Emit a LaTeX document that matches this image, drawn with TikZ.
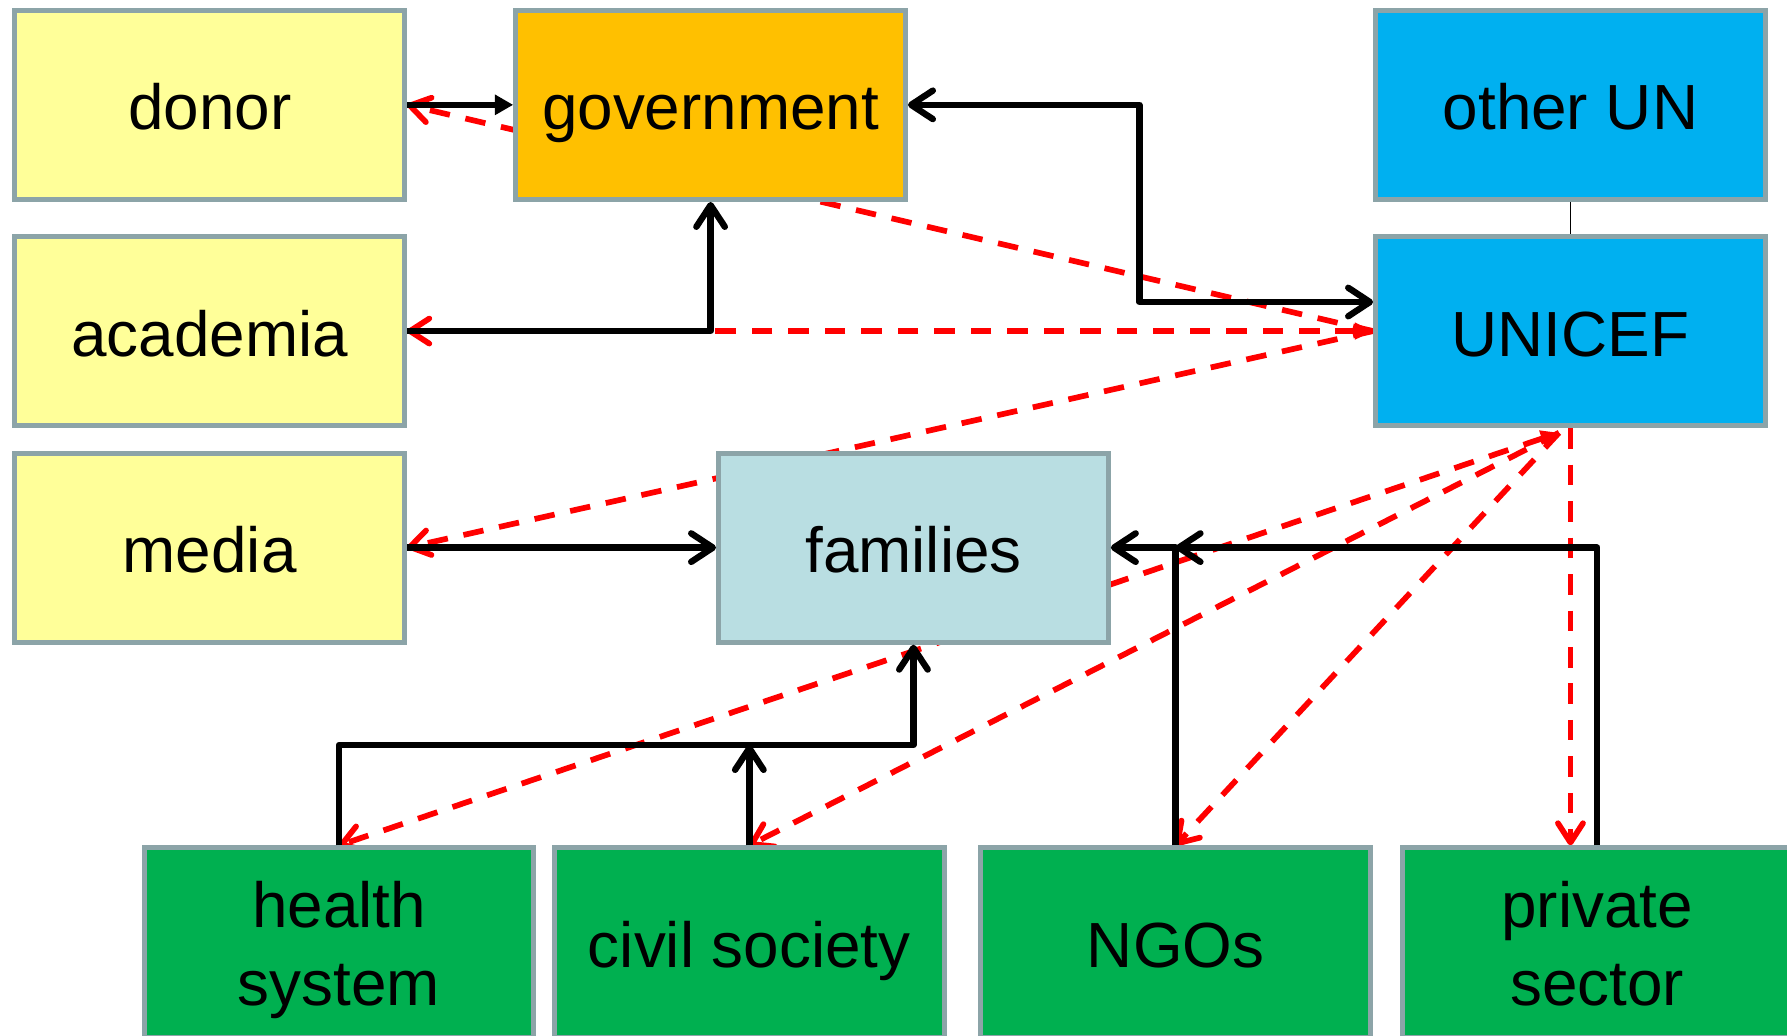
\documentclass[tikz,border=0pt]{standalone}
\usepackage{fontspec}
\setmainfont{Liberation Sans}
\usetikzlibrary{arrows.meta,calc}
\pgfdeclarelayer{bg}
\pgfsetlayers{bg,main}
\definecolor{yelc}{RGB}{255,255,153}
\definecolor{orac}{RGB}{255,192,0}
\definecolor{bluc}{RGB}{0,176,240}
\definecolor{famc}{RGB}{185,222,226}
\definecolor{grnc}{RGB}{0,176,80}
\definecolor{bordc}{RGB}{140,164,168}
\definecolor{redc}{RGB}{255,0,0}
\tikzset{
  openarr/.tip={Straight Barb[length=9.5pt,width=12.5pt,line cap=round,line join=round]},
  redarr/.tip={Straight Barb[length=8.5pt,width=11pt,line cap=round,line join=round]},
  tri/.tip={Triangle[length=8pt,width=8.5pt]},
  redtri/.tip={Triangle[length=8pt,width=7pt]},
}
\begin{document}
\begin{tikzpicture}[x=0.5pt,y=-0.5pt,
  box/.style={draw=bordc, line width=2.2pt, minimum width=171pt, minimum height=83pt,
    inner sep=0pt, align=center, font=\fontsize{28}{34}\selectfont,
    text height=22pt, text depth=0pt},
  twoline/.style={text height=55pt, text depth=0pt},
  blk/.style={draw=black, line width=2.8pt, line join=round},
  rdash/.style={draw=redc, line width=2.5pt, dash pattern=on 9pt off 7pt},
  thinln/.style={draw=black, line width=0.6pt}]
\useasboundingbox (0,0) rectangle (1568,909);
\clip (0,0) rectangle (1568,909);
% boxes
\node[box, fill=yelc] (donor) at (184,92) {donor};
\node[box, fill=orac] (gov) at (623.5,92) {government};
\node[box, fill=bluc] (otherun) at (1378,92) {other UN};
\node[box, fill=yelc] (acad) at (184,290.5) {academia};
\node[box, fill=bluc] (unicef) at (1378,290.5) {UNICEF};
\node[box, fill=yelc] (media) at (184,480.5) {media};
\node[box, fill=famc] (fam) at (801.5,480.5) {families};
\node[box, twoline, fill=grnc] (health) at (297.5,827) {health\\system};
\node[box, fill=grnc] (civil) at (657.5,827) {civil society};
\node[box, fill=grnc] (ngos) at (1031.5,827) {NGOs};
\node[box, twoline, fill=grnc] (priv) at (1401.5,827) {private\\sector};
\coordinate (ub) at ($(unicef.south)+(-10,4)$);
\coordinate (hj) at ($(fam.south)+(0,88)$);
% red dashed connectors (behind boxes)
\begin{pgfonlayer}{bg}
\draw[rdash, -{redarr}] (unicef.west) -- (donor.east);
\draw[rdash, {redtri}-{redarr}] (unicef.west) -- (acad.east);
\draw[rdash, -{redarr}] (unicef.west) -- (media.east);
\draw[rdash, {redtri}-{redarr}] (ub) -- (health.north);
\draw[rdash, -{redarr}] (ub) -- (civil.north);
\draw[rdash, -{redarr}] (ub) -- (ngos.north);
\draw[rdash, -{redarr}] (unicef.south) -- (priv.north -| unicef.south);
\end{pgfonlayer}
% black connectors
\draw[blk, -{tri}] (donor.east) -- (gov.west);
\draw[blk, {openarr}-{openarr}] (gov.east) -- ++(203,0) |- ($(unicef.west)+(0,-25.5)$);
\draw[blk, -{openarr}] (acad.east) -| (gov.south);
\draw[blk, -{openarr}] (media.east) -- (fam.west);
\draw[blk, -{openarr}] (health.north) |- (hj) -- (fam.south);
\draw[blk, -{openarr}] (civil.north) -- (civil.north |- hj);
\draw[blk, -{openarr}] (priv.north) |- (ngos.north |- fam.east);
\draw[blk, -{openarr}] (ngos.north) |- (fam.east);
\draw[thinln] (otherun.south) -- (unicef.north);
\end{tikzpicture}
\end{document}
